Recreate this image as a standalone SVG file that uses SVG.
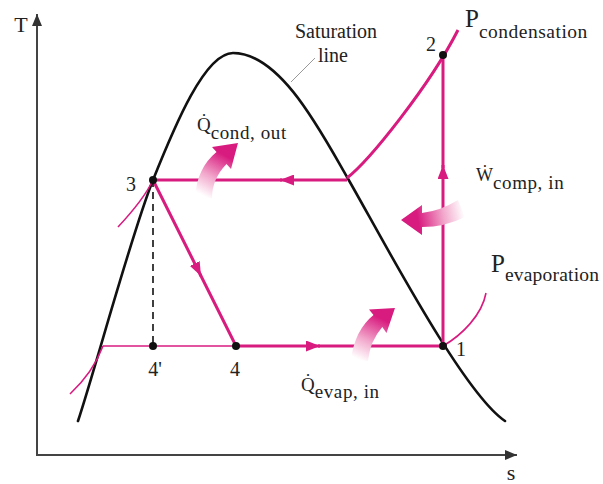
<svg xmlns="http://www.w3.org/2000/svg" width="603" height="484" viewBox="0 0 603 484">
<defs>
<style>
.txt{font-family:"Liberation Serif","Times New Roman",serif;fill:#222;}
.lbl{font-size:20px;text-anchor:middle;}
.sub{font-size:19px;letter-spacing:0.6px;}
.axis{stroke:#444;stroke-width:2;fill:none;}
.dome{stroke:#111;stroke-width:2.6;fill:none;stroke-linecap:round;}
.thick{stroke:#d81b7f;stroke-width:3;fill:none;}
.thin{stroke:#d81b7f;stroke-width:1.6;fill:none;}
.pt{fill:#111;}
</style>
<marker id="axarr" markerUnits="userSpaceOnUse" markerWidth="12" markerHeight="10" refX="12" refY="5" orient="auto"><path d="M0,0 L12,5 L0,10 z" fill="#333"/></marker>
<marker id="flow" markerUnits="userSpaceOnUse" markerWidth="14" markerHeight="11" refX="14" refY="5.5" orient="auto"><path d="M0,0 L14,5.5 L0,11 z" fill="#d81b7f"/></marker>
<linearGradient id="gCond" gradientUnits="userSpaceOnUse" x1="204" y1="196" x2="226" y2="156"><stop offset="0" stop-color="#fff"/><stop offset="0.45" stop-color="#f2a6cb"/><stop offset="1" stop-color="#d81b7f"/></linearGradient>
<linearGradient id="gComp" gradientUnits="userSpaceOnUse" x1="464" y1="212" x2="418" y2="220"><stop offset="0" stop-color="#fff"/><stop offset="0.45" stop-color="#f2a6cb"/><stop offset="1" stop-color="#d81b7f"/></linearGradient>
<linearGradient id="gEvap" gradientUnits="userSpaceOnUse" x1="360" y1="360" x2="380" y2="318"><stop offset="0" stop-color="#fff"/><stop offset="0.45" stop-color="#f2a6cb"/><stop offset="1" stop-color="#d81b7f"/></linearGradient>
</defs>
<rect width="603" height="484" fill="#fff"/>
<g id="axes">
<path class="axis" d="M37,455 L37,14" marker-end="url(#axarr)"/>
<path class="axis" d="M36,455 L517,455" marker-end="url(#axarr)"/>
<text class="txt" x="21" y="32" font-size="22" text-anchor="middle">T</text>
<text class="txt" x="511" y="480" font-size="22" text-anchor="middle">s</text>
</g>
<g id="saturation-dome">
<path class="dome" d="M78,421 C95,370 131,235 153,180 C175,125 205,53 233,53 C280,53 320,130 347,177 C380,234 462,392 505,421"/>
<line x1="315" y1="58" x2="291" y2="82" stroke="#999" stroke-width="1"/>
<text class="txt" x="336" y="38" font-size="20" text-anchor="middle">Saturation</text>
<text class="txt" x="333" y="62" font-size="20" text-anchor="middle">line</text>
</g>
<g id="connectors">
<path class="thin" d="M70,394 C85,380 97,362 103,346"/>
<path class="thin" d="M118,227 C132,212 146,195 153,180"/>
<path class="thin" d="M443,346 C462,335 482,315 486,293"/>
<path class="thin" d="M103,346 L236,346"/>
<path class="thick" d="M236,346 L320,346" marker-end="url(#flow)"/>
<path class="thick" d="M318,346 L443,346"/>
<path class="thick" d="M443,346 L443,165" marker-end="url(#flow)"/>
<path class="thick" d="M443,168 L443,55"/>
<path class="thick" d="M347,178 C370,160 430,85 458,30"/>
<path class="thick" d="M347,180 L280,180" marker-end="url(#flow)"/>
<path class="thick" d="M282,180 L153,180"/>
<path class="thick" d="M153,180 L201,276" marker-end="url(#flow)"/>
<path class="thick" d="M200,274 L236,346"/>
<line x1="153" y1="180" x2="153" y2="346" stroke="#111" stroke-width="1.6" stroke-dasharray="7,5"/>
</g>
<g id="heat-arrows">
<path d="M238,143 L231,169 L226.5,164 Q212,179 212,198 L195,197 Q197,168 216.5,152 L212,147 Z" fill="url(#gCond)"/>
<path d="M401,220 L422,205 L422,213 Q440,211 458,200 L465,217 Q445,227 422,227 L422,235 Z" fill="url(#gComp)"/>
<path d="M395,308 L386.5,333 L382.3,327 Q370,341 368,361 L351,359 Q355,330 373.5,315 L369,309.5 Z" fill="url(#gEvap)"/>
</g>
<g id="state-1"><circle class="pt" cx="443" cy="346" r="4"/><text class="txt lbl" x="461" y="356">1</text></g>
<g id="state-2"><circle class="pt" cx="443" cy="55" r="4"/><text class="txt lbl" x="431" y="51">2</text></g>
<g id="state-3"><circle class="pt" cx="153" cy="180" r="4"/><text class="txt lbl" x="131" y="191">3</text></g>
<g id="state-4"><circle class="pt" cx="236" cy="346" r="4"/><text class="txt lbl" x="235" y="376">4</text></g>
<g id="state-4p"><circle class="pt" cx="153" cy="346" r="4"/><text class="txt lbl" x="155" y="376">4'</text></g>
<g id="label-qcond"><text class="txt" x="197" y="131" font-size="19">Q̇<tspan class="sub" dy="8">cond, out</tspan></text></g>
<g id="label-wcomp"><text class="txt" x="476" y="181" font-size="18">Ẇ<tspan class="sub" dy="8">comp, in</tspan></text></g>
<g id="label-qevap"><text class="txt" x="301" y="391" font-size="19">Q̇<tspan class="sub" dy="7">evap, in</tspan></text></g>
<g id="label-pcond"><text class="txt" x="465" y="27" font-size="25">P<tspan font-size="19.5" dy="11" letter-spacing="0.5">condensation</tspan></text></g>
<g id="label-pevap"><text class="txt" x="491" y="272" font-size="25">P<tspan font-size="19.5" dy="9" letter-spacing="0.2">evaporation</tspan></text></g>
</svg>
